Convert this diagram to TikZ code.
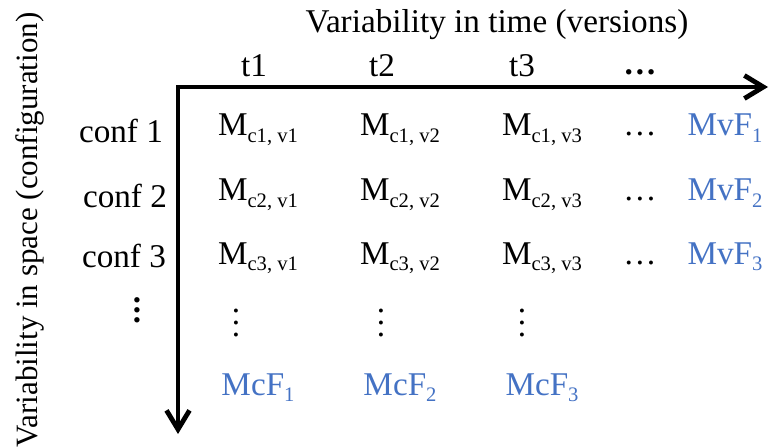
\documentclass[tikz,border=0pt]{standalone}
\usepackage{fontspec}
\setmainfont{Liberation Serif}
\usetikzlibrary{arrows.meta,positioning}
\definecolor{fblue}{HTML}{4472C4}
\newcommand{\sbs}[1]{\raisebox{-0.21em}{\fontsize{10.3pt}{12pt}\selectfont #1}}
\newcommand{\vdts}[1]{\vbox{\baselineskip#1\lineskiplimit0pt\hbox{.}\hbox{.}\hbox{.}}}

\begin{document}
\begin{tikzpicture}[x=0.5pt,y=-0.5pt,>={Straight Barb[length=9.5pt,width=11.5pt]},font=\fontsize{16.6pt}{19pt}\selectfont]
\useasboundingbox (0,0) rectangle (769,448);
% axes
\coordinate (O) at (178,87);
\coordinate (Xe) at (768,87);
\coordinate (Ye) at (178,434);
\draw[<->,line width=2.4pt] (Ye) -- (O) -- (Xe);
% axis titles
\node[anchor=base] (tlab) at (497,33) {Variability in time (versions)};
\node[anchor=base,rotate=90,font=\fontsize{15.5pt}{18pt}\selectfont] (slab) at (37,230) {Variability in space (configuration)};
% time steps
\foreach \x/\n in {254/1,382/2,522/3}{\node[anchor=base] (t\n) at (\x,77) {t\n};}
\node[anchor=base] (tdots) at (640,75) {\textbf{…}};
% configurations
\foreach \x/\y/\i in {121/143/1,125/208/2,124/268/3}{\node[anchor=base] (conf\i) at (\x,\y) {conf \i};}
\node[inner sep=0pt] (cdots) at (137,310) {\bfseries\vdts{5pt}};
% models per configuration and version
\foreach \y/\r in {136/1,201/2,264/3}{
  \foreach \x/\c in {258/1,400/2,542/3}{
    \node[anchor=base] (m\r\c) at (\x,\y) {M\sbs{c\r, v\c}};
  }
  \node[anchor=base] (hd\r) at (640,\y) {…};
  \node[anchor=base,text=fblue] (mvf\r) at (725,\y) {MvF\sbs{\r}};
}
% columns: vertical dots and McF
\foreach \x/\xd/\c in {258/236/1,400/381/2,542/522/3}{
  \node[inner sep=0pt] (vd\c) at (\xd,323) {\vdts{6pt}};
  \node[anchor=base,text=fblue] (mcf\c) at (\x,395) {McF\sbs{\c}};
}
\end{tikzpicture}
\end{document}
